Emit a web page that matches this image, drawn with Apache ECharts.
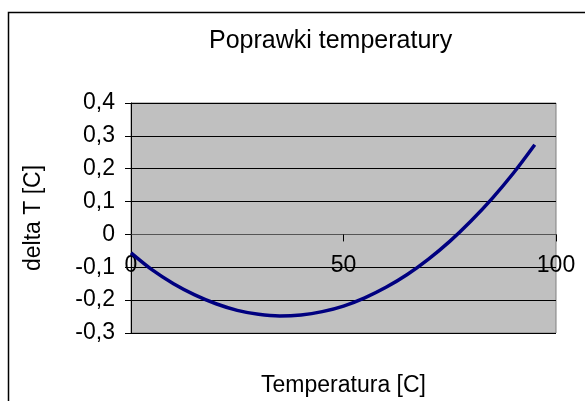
<!DOCTYPE html>
<html>
<head>
<meta charset="utf-8">
<script src="https://cdn.jsdelivr.net/npm/echarts@6/dist/echarts.min.js"></script>
<style>
html,body{margin:0;padding:0;background:#fff;}
#chart{width:585px;height:401px;}
</style>
</head>
<body>
<div id="chart"></div>
<script>
// Data
var temperatures = [0, 5, 10, 15, 20, 25, 30, 35, 40, 45, 50, 55, 60, 65, 70, 75, 80, 85, 90, 95];
var deltaT = [-0.056, -0.108, -0.150, -0.184, -0.211, -0.231, -0.243, -0.248, -0.245, -0.235, -0.218, -0.193, -0.161, -0.122, -0.075, -0.021, 0.041, 0.110, 0.187, 0.273];
var xTicks = [0, 50, 100];
var yTicks = [-0.3, -0.2, -0.1, 0, 0.1, 0.2, 0.3, 0.4];

var FONT = "'Liberation Sans', Arial, sans-serif";
var pts = temperatures.map(function (t, i) { return [t, deltaT[i]]; });

var GRID_TOP = 103, GRID_H = 230;
// move the x axis up to the y = 0 line (Excel "crosses at 0")
var yMin = yTicks[0], yMax = yTicks[yTicks.length - 1];
var zeroOffset = -GRID_H * (0 - yMin) / (yMax - yMin);

var chart = echarts.init(document.getElementById('chart'), null, {renderer: 'canvas'});
chart.setOption({
  animation: false,
  backgroundColor: '#ffffff',
  title: {
    text: 'Poprawki temperatury',
    left: 204,
    top: 24,
    textStyle: {fontFamily: FONT, fontSize: 25, fontWeight: 'normal', color: '#000'}
  },
  graphic: [{
    type: 'rect',
    shape: {x: 8.5, y: 12.5, width: 620, height: 420},
    style: {fill: 'none', stroke: '#000', lineWidth: 1.5},
    silent: true
  }],
  grid: {
    left: 131, top: GRID_TOP, width: 425, height: GRID_H,
    outerBoundsMode: 'none',
    containLabel: false,
    show: true, backgroundColor: '#c0c0c0', borderColor: '#808080', borderWidth: 1
  },
  xAxis: {
    type: 'value',
    min: xTicks[0], max: xTicks[xTicks.length - 1], interval: 50,
    offset: zeroOffset,
    name: 'Temperatura [C]',
    nameLocation: 'middle',
    nameGap: 140,
    nameTextStyle: {fontFamily: FONT, fontSize: 23, color: '#000'},
    axisLine: {show: true, onZero: false, lineStyle: {color: '#555', width: 1}},
    axisTick: {show: true, inside: false, length: 7, lineStyle: {color: '#000'}},
    axisLabel: {margin: 20, fontFamily: FONT, fontSize: 23, color: '#000'},
    splitLine: {show: false}
  },
  yAxis: {
    type: 'value',
    min: yMin, max: yMax, interval: 0.1,
    name: 'delta T [C]',
    nameLocation: 'middle',
    nameGap: 86,
    nameRotate: 90,
    nameTextStyle: {fontFamily: FONT, fontSize: 23, color: '#000'},
    axisLine: {show: true, onZero: false, lineStyle: {color: '#000', width: 1}},
    axisTick: {show: true, inside: false, length: 6, lineStyle: {color: '#000'}},
    axisLabel: {
      margin: 16, fontFamily: FONT, fontSize: 23, color: '#000',
      formatter: function (v) {
        var r = Math.round(v * 10) / 10;
        if (r === 0) return '0';
        return r.toFixed(1).replace('.', ',');
      }
    },
    splitLine: {show: true, lineStyle: {color: '#000', width: 1}}
  },
  series: [{
    type: 'line',
    data: pts,
    smooth: 0.3,
    showSymbol: false,
    lineStyle: {color: '#000080', width: 3.5},
    z: 3
  }]
});
</script>
</body>
</html>
